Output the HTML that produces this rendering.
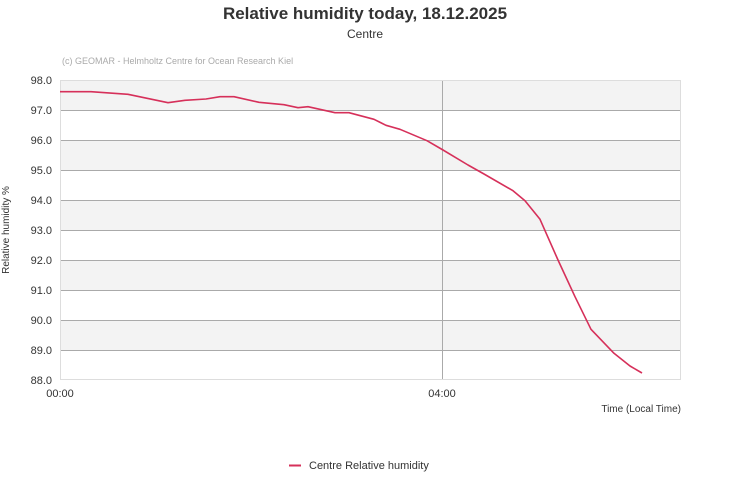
<!DOCTYPE html>
<html><head><meta charset="utf-8"><style>
body{margin:0;background:#fff;}
svg{display:block;font-family:"Liberation Sans",sans-serif;}
</style></head><body>
<svg width="731" height="500" viewBox="0 0 731 500">
<text x="365" y="19" text-anchor="middle" font-size="17" font-weight="bold" fill="#333">Relative humidity today, 18.12.2025</text>
<text x="365" y="38" text-anchor="middle" font-size="12" fill="#333">Centre</text>
<text x="62" y="64" font-size="9" fill="#aaa">(c) GEOMAR - Helmholtz Centre for Ocean Research Kiel</text>
<g fill="#f3f3f3">
<rect x="60" y="80" width="621" height="30"/>
<rect x="60" y="140" width="621" height="30"/>
<rect x="60" y="200" width="621" height="30"/>
<rect x="60" y="260" width="621" height="30"/>
<rect x="60" y="320" width="621" height="30"/>
</g>
<g stroke="#aaa" stroke-width="1">
<line x1="60" x2="681" y1="110.5" y2="110.5"/>
<line x1="60" x2="681" y1="140.5" y2="140.5"/>
<line x1="60" x2="681" y1="170.5" y2="170.5"/>
<line x1="60" x2="681" y1="200.5" y2="200.5"/>
<line x1="60" x2="681" y1="230.5" y2="230.5"/>
<line x1="60" x2="681" y1="260.5" y2="260.5"/>
<line x1="60" x2="681" y1="290.5" y2="290.5"/>
<line x1="60" x2="681" y1="320.5" y2="320.5"/>
<line x1="60" x2="681" y1="350.5" y2="350.5"/>
<line x1="442.5" x2="442.5" y1="80" y2="380"/>
</g>
<rect x="60.5" y="80.5" width="620" height="299" fill="none" stroke="#ddd"/>
<g font-size="11" fill="#333" text-anchor="end">
<text x="52" y="84">98.0</text><text x="52" y="114">97.0</text><text x="52" y="144">96.0</text>
<text x="52" y="174">95.0</text><text x="52" y="204">94.0</text><text x="52" y="234">93.0</text>
<text x="52" y="264">92.0</text><text x="52" y="294">91.0</text><text x="52" y="324">90.0</text>
<text x="52" y="354">89.0</text><text x="52" y="384">88.0</text>
</g>
<g font-size="11" fill="#333" text-anchor="middle">
<text x="60" y="397">00:00</text><text x="442" y="397">04:00</text>
</g>
<text x="681" y="412" font-size="10" fill="#333" text-anchor="end">Time (Local Time)</text>
<text transform="translate(9,230) rotate(-90)" font-size="10" fill="#333" text-anchor="middle">Relative humidity %</text>
<polyline fill="none" stroke="#d6305a" stroke-width="1.6" stroke-linejoin="round" points="60,91.7 91,91.7 128,94.3 168,102.7 185,100.3 206,99 220,96.7 234,96.7 259,102.3 284,104.7 298,107.7 308,106.7 335,112.7 349,112.7 374,119.3 386,125.3 400,129.3 427,140.7 443,150 468,165 484,174 513,190.7 525,200.7 540,219.3 558,260 575,296.7 591,329.3 614,353.3 630,366 642,373"/>
<line x1="289" x2="301" y1="465.5" y2="465.5" stroke="#d6305a" stroke-width="2"/>
<text x="309" y="469" font-size="11" fill="#333">Centre Relative humidity</text>
</svg>
</body></html>
